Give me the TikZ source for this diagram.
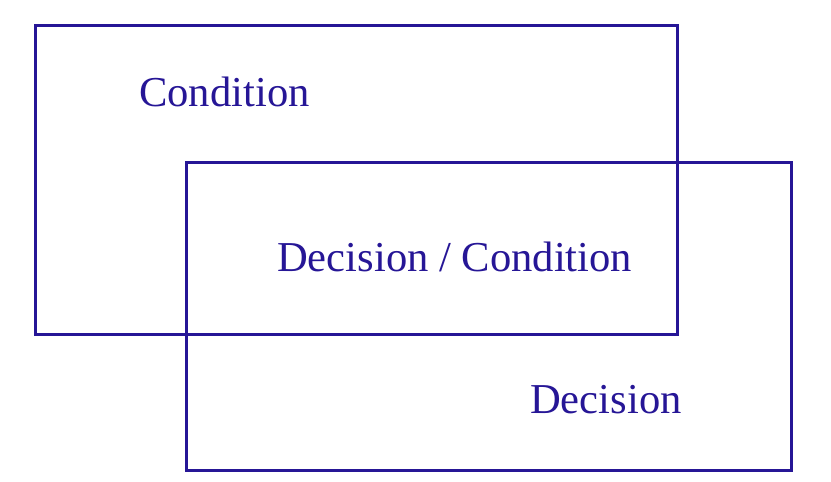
\documentclass[tikz,border=0pt]{standalone}
\usepackage{fontspec}
\setmainfont{Liberation Serif}
\usepackage{tikz}
\usetikzlibrary{positioning}
\definecolor{setblue}{RGB}{38,22,150}

\begin{document}
\begin{tikzpicture}[x=1pt,y=-1pt,setline/.style={draw=setblue,line width=3pt},
  setlabel/.style={text=setblue,inner sep=0pt,anchor=base west,font=\fontsize{42.6}{42.6}\selectfont}]
\useasboundingbox (0,0) rectangle (831,482);
\node[setline,minimum width=642pt,minimum height=309pt] (cond) at (356,179.5) {};
\node[setline,minimum width=605pt,minimum height=308pt] (dec) at (488.5,316) {};

\node[setlabel] (condtext) at (139,106) {Condition};
\node[setlabel] (bothtext) at (277,271) {Decision / Condition};
\node[setlabel] (dectext) at (530,413) {Decision};
\end{tikzpicture}
\end{document}
